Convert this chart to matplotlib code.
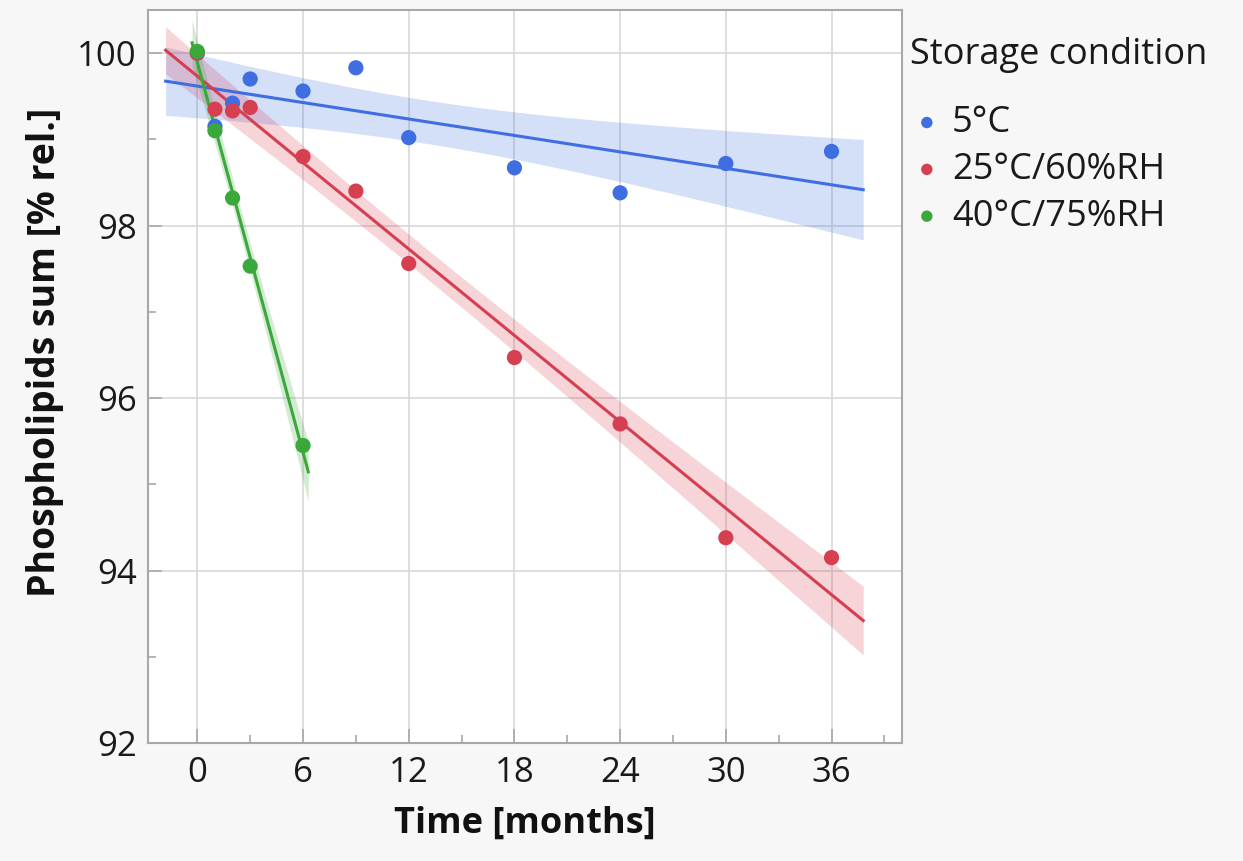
import matplotlib.pyplot as plt
from matplotlib.ticker import MultipleLocator
import numpy as np

t_5c = [0, 1, 2, 3, 6, 9, 12, 18, 24, 30, 36]
y_5c = [100.0, 99.15, 99.42, 99.70, 99.56, 99.83, 99.02, 98.67, 98.38, 98.72, 98.86]

t_25c = [0, 1, 2, 3, 6, 9, 12, 18, 24, 30, 36]
y_25c = [100.0, 99.35, 99.33, 99.37, 98.80, 98.40, 97.56, 96.47, 95.70, 94.38, 94.15]

t_40c = [0, 1, 2, 3, 6]
y_40c = [100.02, 99.10, 98.32, 97.53, 95.45]

labels = ['5°C', '25°C/60%RH', '40°C/75%RH']
colors = ['#3e6ee0', '#d63f50', '#3aa83a']

# t-Quantile 97.5 % nach Freiheitsgraden
t_crit = {3: 3.182, 9: 2.262}

plt.rcParams['font.family'] = ['Open Sans', 'DejaVu Sans']

fig = plt.figure(figsize=(12.43, 8.61), dpi=100, facecolor='#f7f7f7')
ax = fig.add_axes([148 / 1243, 1 - 743 / 861, (902 - 148) / 1243, (743 - 10) / 861])
ax.set_facecolor('white')

for tx, yy, lab, col in zip([t_5c, t_25c, t_40c], [y_5c, y_25c, y_40c], labels, colors):
    x = np.array(tx, float)
    y = np.array(yy, float)
    n = len(x)
    b, a = np.polyfit(x, y, 1)
    res = y - (a + b * x)
    s = np.sqrt(np.sum(res ** 2) / (n - 2))
    rng = x.max() - x.min()
    xf = np.linspace(x.min() - 0.05 * rng, x.max() + 0.05 * rng, 100)
    yf = a + b * xf
    se = s * np.sqrt(1 / n + (xf - x.mean()) ** 2 / np.sum((x - x.mean()) ** 2))
    ci = t_crit[n - 2] * se
    ax.fill_between(xf, yf - ci, yf + ci, color=col, alpha=0.22, lw=0, zorder=2)
    ax.plot(xf, yf, color=col, lw=2.2, zorder=3)
    ax.scatter(x, y, s=120, color=col, zorder=4, label=lab, edgecolors='none')

ax.set_xlim(-2.8, 40)
ax.set_ylim(92, 100.5)
ax.xaxis.set_major_locator(MultipleLocator(6))
ax.xaxis.set_minor_locator(MultipleLocator(3))
ax.yaxis.set_major_locator(MultipleLocator(2))
ax.yaxis.set_minor_locator(MultipleLocator(1))
ax.grid(True, which='major', color='#d8d8d8', lw=1.2, zorder=0)
ax.set_axisbelow(True)

ax.tick_params(which='major', direction='in', length=10, width=1.2, color='#a8a8a8',
               labelsize=25, labelcolor='#1a1a1a')
ax.tick_params(axis='x', which='major', pad=9)
ax.tick_params(axis='y', which='major', pad=8)
ax.tick_params(which='minor', direction='in', length=6, width=1.2, color='#a8a8a8')
for sp in ax.spines.values():
    sp.set_color('#a8a8a8')
    sp.set_linewidth(1.5)

ax.set_xlabel('Time [months]', fontsize=26, fontweight='bold', color='#111111')
ax.set_ylabel('Phospholipids sum [% rel.]', fontsize=27, fontweight='bold', color='#111111')
ax.xaxis.set_label_coords(0.5, -(806 - 743) / 733)
ax.yaxis.set_label_coords((64 - 148) / 754, (743 - 352) / 733)

fig.text(910 / 1243, 1 - 55 / 861, 'Storage condition', fontsize=26, va='center',
         ha='left', color='#1a1a1a')
leg = fig.legend(loc='upper left', bbox_to_anchor=(916 / 1243, 1 - 105 / 861),
                 frameon=False, fontsize=26, handlelength=0.6, handletextpad=0.4,
                 labelspacing=0.3, markerscale=0.75, borderaxespad=0, borderpad=0)
for t in leg.get_texts():
    t.set_color('#1a1a1a')

fig.savefig('out.png', dpi=100, facecolor=fig.get_facecolor())
